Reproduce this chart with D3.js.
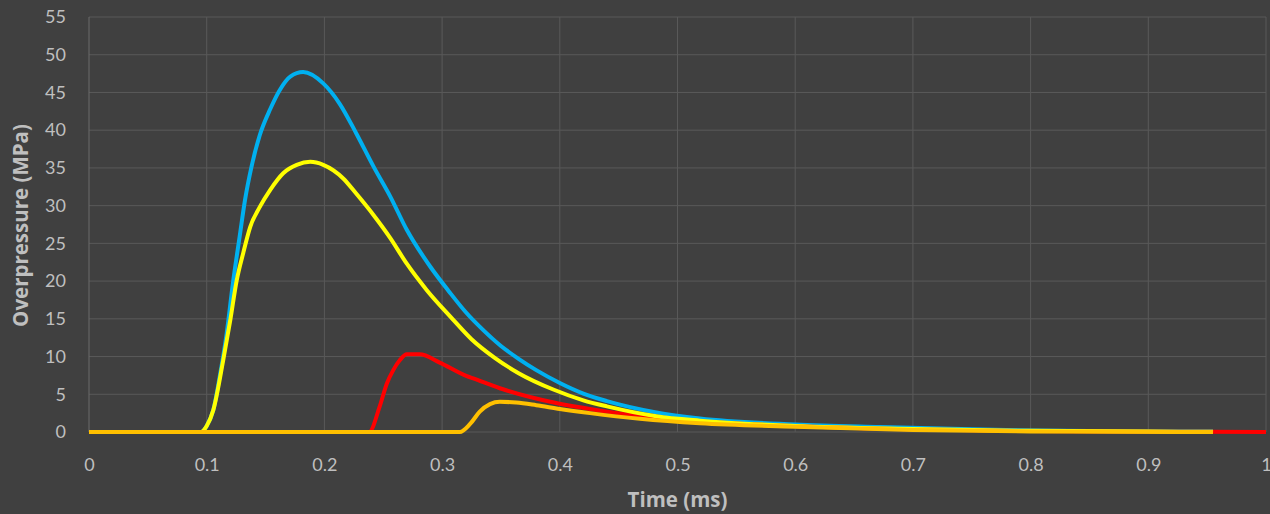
<!DOCTYPE html>
<meta charset="utf-8">
<style>
  body { margin: 0; background: #404040; }
  text { font-family: Lato, "Open Sans", sans-serif; fill: #bfbfbf; }
</style>
<script src="https://d3js.org/d3.v7.min.js"></script>
<div id="chart"></div>
<script>

// tick values
var xTicks = [0, 0.1, 0.2, 0.3, 0.4, 0.5, 0.6, 0.7, 0.8, 0.9, 1];
var yTicks = [0, 5, 10, 15, 20, 25, 30, 35, 40, 45, 50, 55];

// series values (time in ms, overpressure in MPa)
var blueT = [0, 0.095, 0.1, 0.1056, 0.111, 0.117, 0.1226, 0.128, 0.1325, 0.138, 0.145, 0.154, 0.162, 0.171, 0.182, 0.199, 0.213, 0.227, 0.242, 0.256, 0.27, 0.29, 0.306, 0.32, 0.335, 0.35, 0.365, 0.38, 0.4, 0.42, 0.44, 0.482, 0.519, 0.6, 0.672, 0.75, 0.8, 0.9, 0.955];
var blueP = [0, 0, 0.8, 2.9, 7.3, 13.1, 20.1, 25.9, 30.7, 35.1, 39.3, 42.8, 45.3, 47.1, 47.7, 46.2, 43.5, 39.6, 35.1, 31.2, 26.8, 21.9, 18.6, 15.9, 13.5, 11.4, 9.7, 8.2, 6.5, 5.1, 4.1, 2.6, 1.8, 1.0, 0.65, 0.35, 0.2, 0.08, 0.05];

var redT = [0, 0.238, 0.247, 0.253, 0.2585, 0.264, 0.27, 0.281, 0.298, 0.321, 0.3265, 0.349, 0.355, 0.395, 0.44, 0.468, 0.52, 0.6, 0.7, 0.8, 0.9, 1];
var redP = [0, 0, 3.4, 6.4, 8.2, 9.5, 10.3, 10.3, 9.2, 7.4, 7.1, 5.8, 5.5, 3.9, 2.7, 2.1, 1.4, 0.8, 0.35, 0.12, 0.04, 0];

var yellowT = [0, 0.095, 0.1, 0.1056, 0.114, 0.12, 0.1255, 0.131, 0.137, 0.145, 0.154, 0.165, 0.1765, 0.188, 0.199, 0.216, 0.227, 0.242, 0.256, 0.27, 0.287, 0.307, 0.325, 0.345, 0.365, 0.395, 0.42, 0.44, 0.482, 0.519, 0.6, 0.7, 0.8, 0.9, 0.955];
var yellowP = [0, 0, 0.8, 2.9, 9.5, 14.8, 20.1, 23.7, 27.2, 29.8, 32.1, 34.3, 35.4, 35.8, 35.4, 33.6, 31.6, 28.7, 25.7, 22.3, 18.8, 15.3, 12.3, 9.8, 7.8, 5.6, 4.2, 3.4, 2.1, 1.5, 0.8, 0.4, 0.15, 0.06, 0.04];

var orangeT = [0, 0.315, 0.324, 0.332, 0.3407, 0.349, 0.363, 0.38, 0.4, 0.4257, 0.468, 0.519, 0.6, 0.7, 0.8, 0.9, 0.955];
var orangeP = [0, 0, 1.1, 2.7, 3.7, 4.0, 3.9, 3.55, 3.05, 2.5, 1.75, 1.15, 0.7, 0.27, 0.08, 0.02, 0];

var series = [
  {t: blueT, p: blueP, color: "#00b0f0"},
  {t: redT, p: redP, color: "#ff0000"},
  {t: yellowT, p: yellowP, color: "#ffff00"},
  {t: orangeT, p: orangeP, color: "#ffc000"}
];

var margin = {top: 17, right: 4, bottom: 82, left: 89},
    width = 1270 - margin.left - margin.right,
    height = 514 - margin.top - margin.bottom;

var svg = d3.select("#chart")
  .append("svg")
    .attr("width", 1270)
    .attr("height", 514)
  .append("g")
    .attr("transform", "translate(" + margin.left + "," + margin.top + ")");

var x = d3.scaleLinear().domain([0, 1]).range([0, width]);
var y = d3.scaleLinear().domain([0, 55]).range([height, 0]);

// gridlines
svg.append("g")
  .selectAll("line")
  .data(yTicks)
  .enter().append("line")
    .attr("x1", 0).attr("x2", width)
    .attr("y1", function(d) { return y(d); })
    .attr("y2", function(d) { return y(d); })
    .attr("stroke", "#595959")
    .attr("stroke-width", 1);

svg.append("g")
  .selectAll("line")
  .data(xTicks)
  .enter().append("line")
    .attr("x1", function(d) { return x(d); })
    .attr("x2", function(d) { return x(d); })
    .attr("y1", 0).attr("y2", height)
    .attr("stroke", function(d) { return d === 0 ? "#6a6a6a" : "#595959"; })
    .attr("stroke-width", 1);

// axes (labels only)
var xAxis = svg.append("g")
  .attr("transform", "translate(0," + height + ")")
  .call(d3.axisBottom(x).tickValues(xTicks).tickSize(0).tickPadding(26).tickFormat(d3.format("")));
var yAxis = svg.append("g")
  .call(d3.axisLeft(y).tickValues(yTicks).tickSize(0).tickPadding(23));
[xAxis, yAxis].forEach(function(a) {
  a.select(".domain").remove();
  a.selectAll("text").style("font-size", "18px").attr("fill", "#bfbfbf");
});

// lines
var line = d3.line()
  .x(function(d) { return x(d[0]); })
  .y(function(d) { return y(d[1]); })
  .curve(d3.curveMonotoneX);

series.forEach(function(s) {
  svg.append("path")
    .datum(s.t.map(function(t, i) { return [t, s.p[i]]; }))
    .attr("fill", "none")
    .attr("stroke", s.color)
    .attr("stroke-width", 4)
    .attr("stroke-linejoin", "round")
    .attr("d", line);
});

// axis titles
svg.append("text")
  .attr("x", width / 2)
  .attr("y", height + 75)
  .attr("text-anchor", "middle")
  .style("font-family", "'Open Sans', sans-serif")
  .style("font-size", "20.5px")
  .style("font-weight", "bold")
  .text("Time (ms)");

svg.append("text")
  .attr("transform", "translate(" + (-61) + "," + (height / 2 + 1) + ") rotate(-90)")
  .attr("text-anchor", "middle")
  .style("font-family", "'Open Sans', sans-serif")
  .style("font-size", "20.5px")
  .style("font-weight", "bold")
  .text("Overpressure (MPa)");

</script>
